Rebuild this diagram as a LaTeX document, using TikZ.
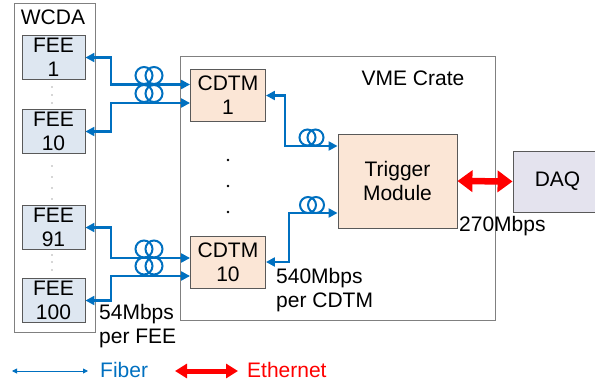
\documentclass[tikz,border=0pt]{standalone}
\usepackage{fontspec}
\setmainfont{Liberation Sans}
\usetikzlibrary{arrows.meta}
\definecolor{fiberblue}{HTML}{0070C0}
\definecolor{feefill}{HTML}{DEE7F1}
\definecolor{modfill}{HTML}{FBE6D6}
\definecolor{daqfill}{HTML}{E4E3EE}
\definecolor{edgegray}{HTML}{808080}
\definecolor{boxgray}{HTML}{595959}

\begin{document}
\begin{tikzpicture}[x=1pt,y=-1pt,font=\fontsize{21}{24}\selectfont,inner sep=0pt,
  crate/.style={draw=edgegray,line width=0.9pt},
  fee/.style={rectangle,draw=boxgray,line width=0.9pt,fill=feefill,minimum width=63pt,minimum height=44pt,align=center},
  mod/.style={rectangle,draw=boxgray,line width=0.9pt,fill=modfill,align=center},
  daqbox/.style={rectangle,draw=boxgray,line width=0.9pt,fill=daqfill,minimum width=97pt,minimum height=61pt},
  fiber/.style={draw=fiberblue,line width=2.3pt,>={Triangle[length=9pt,width=9pt]},<->},
  fiberloop/.style={draw=fiberblue,line width=2pt},
  fiberkey/.style={draw=fiberblue,line width=0.9pt,>={Triangle[length=5pt,width=5pt]},<->},
  eth/.style={draw=red,line width=6.5pt,>={Triangle[length=15pt,width=21pt]},<->},
  ethkey/.style={draw=red,line width=5pt,>={Triangle[length=12pt,width=14pt]},<->}]
\useasboundingbox (0,0) rectangle (595,383);

% containers
\draw[crate] (14,3) rectangle (95,332);
\node (wcdalbl) at (53,17) {WCDA};
\draw[crate] (180,56) rectangle (495,320);
\node (vmelbl) at (413,78) {VME Crate};

% front-end boards
\node[fee] (fee1) at (53.5,57.5) {FEE\\1};
\node[fee] (fee10) at (53.5,131.5) {FEE\\10};
\node[fee] (fee91) at (53.5,227.5) {FEE\\91};
\node[fee] (fee100) at (53.5,300.5) {FEE\\100};
\foreach \y in {87,95,103,166,177,188,199,255,262,270}
  \fill[black!70] (52,\y) circle[radius=0.6];

% crate modules
\node[mod,minimum width=75pt,minimum height=52pt] (cdtm1) at (228,95.5) {CDTM\\1};
\node[mod,minimum width=75pt,minimum height=52pt] (cdtm10) at (228,262) {CDTM\\10};
\node[mod,minimum width=119pt,minimum height=94pt] (trig) at (397.5,181) {Trigger\\Module};
\foreach \y in {160,186,212}
  \fill (228,\y) circle[radius=1.4];
\node[daqbox] (daq) at (561.5,181.5) {\hspace*{-8pt}DAQ};

% fibers
\draw[fiber] (fee1.east) -| (111,84.5) -- ([yshift=11pt]cdtm1.west);
\draw[fiber] (fee10.east) -| (111,103) -- ([yshift=-7.5pt]cdtm1.west);
\draw[fiber] (fee91.east) -| (111,258) -- ([yshift=4pt]cdtm10.west);
\draw[fiber] (fee100.east) -| (111,276) -- ([yshift=-14pt]cdtm10.west);
\draw[fiber] (cdtm1.east) -| (285,146) -- ([yshift=35pt]trig.west);
\draw[fiber] (cdtm10.east) -| (289,213) -- ([yshift=-32pt]trig.west);
\foreach \cx/\cy in {144/75.5,154/75.5,144/93.5,154/93.5,144/249,154/249,144/266,154/266}
  \draw[fiberloop] (\cx,\cy) circle[radius=8.5];
\foreach \cx/\cy in {307.5/137.5,315.5/137.5,308/205,316/205}
  \draw[fiberloop] (\cx,\cy) circle[radius=8];

% ethernet
\draw[eth] (trig.east) -- (daq.west);

% rates
\node[anchor=west,align=left] (feerate) at (99,326) {54Mbps\\per FEE};
\node[anchor=west,align=left] (cdtmrate) at (276,290) {540Mbps\\per CDTM};
\node[anchor=west] (daqrate) at (459,226) {270Mbps};

% legend
\coordinate (fibl) at (12,371);
\coordinate (fibr) at (88,371);
\draw[fiberkey] (fibl) -- (fibr);
\node[anchor=west,text=fiberblue] (fiberlbl) at (100,370) {Fiber};
\coordinate (ethl) at (175,371);
\coordinate (ethr) at (238,371);
\draw[ethkey] (ethl) -- (ethr);
\node[anchor=west,text=red] (ethlbl) at (247,370) {Ethernet};
\end{tikzpicture}
\end{document}
